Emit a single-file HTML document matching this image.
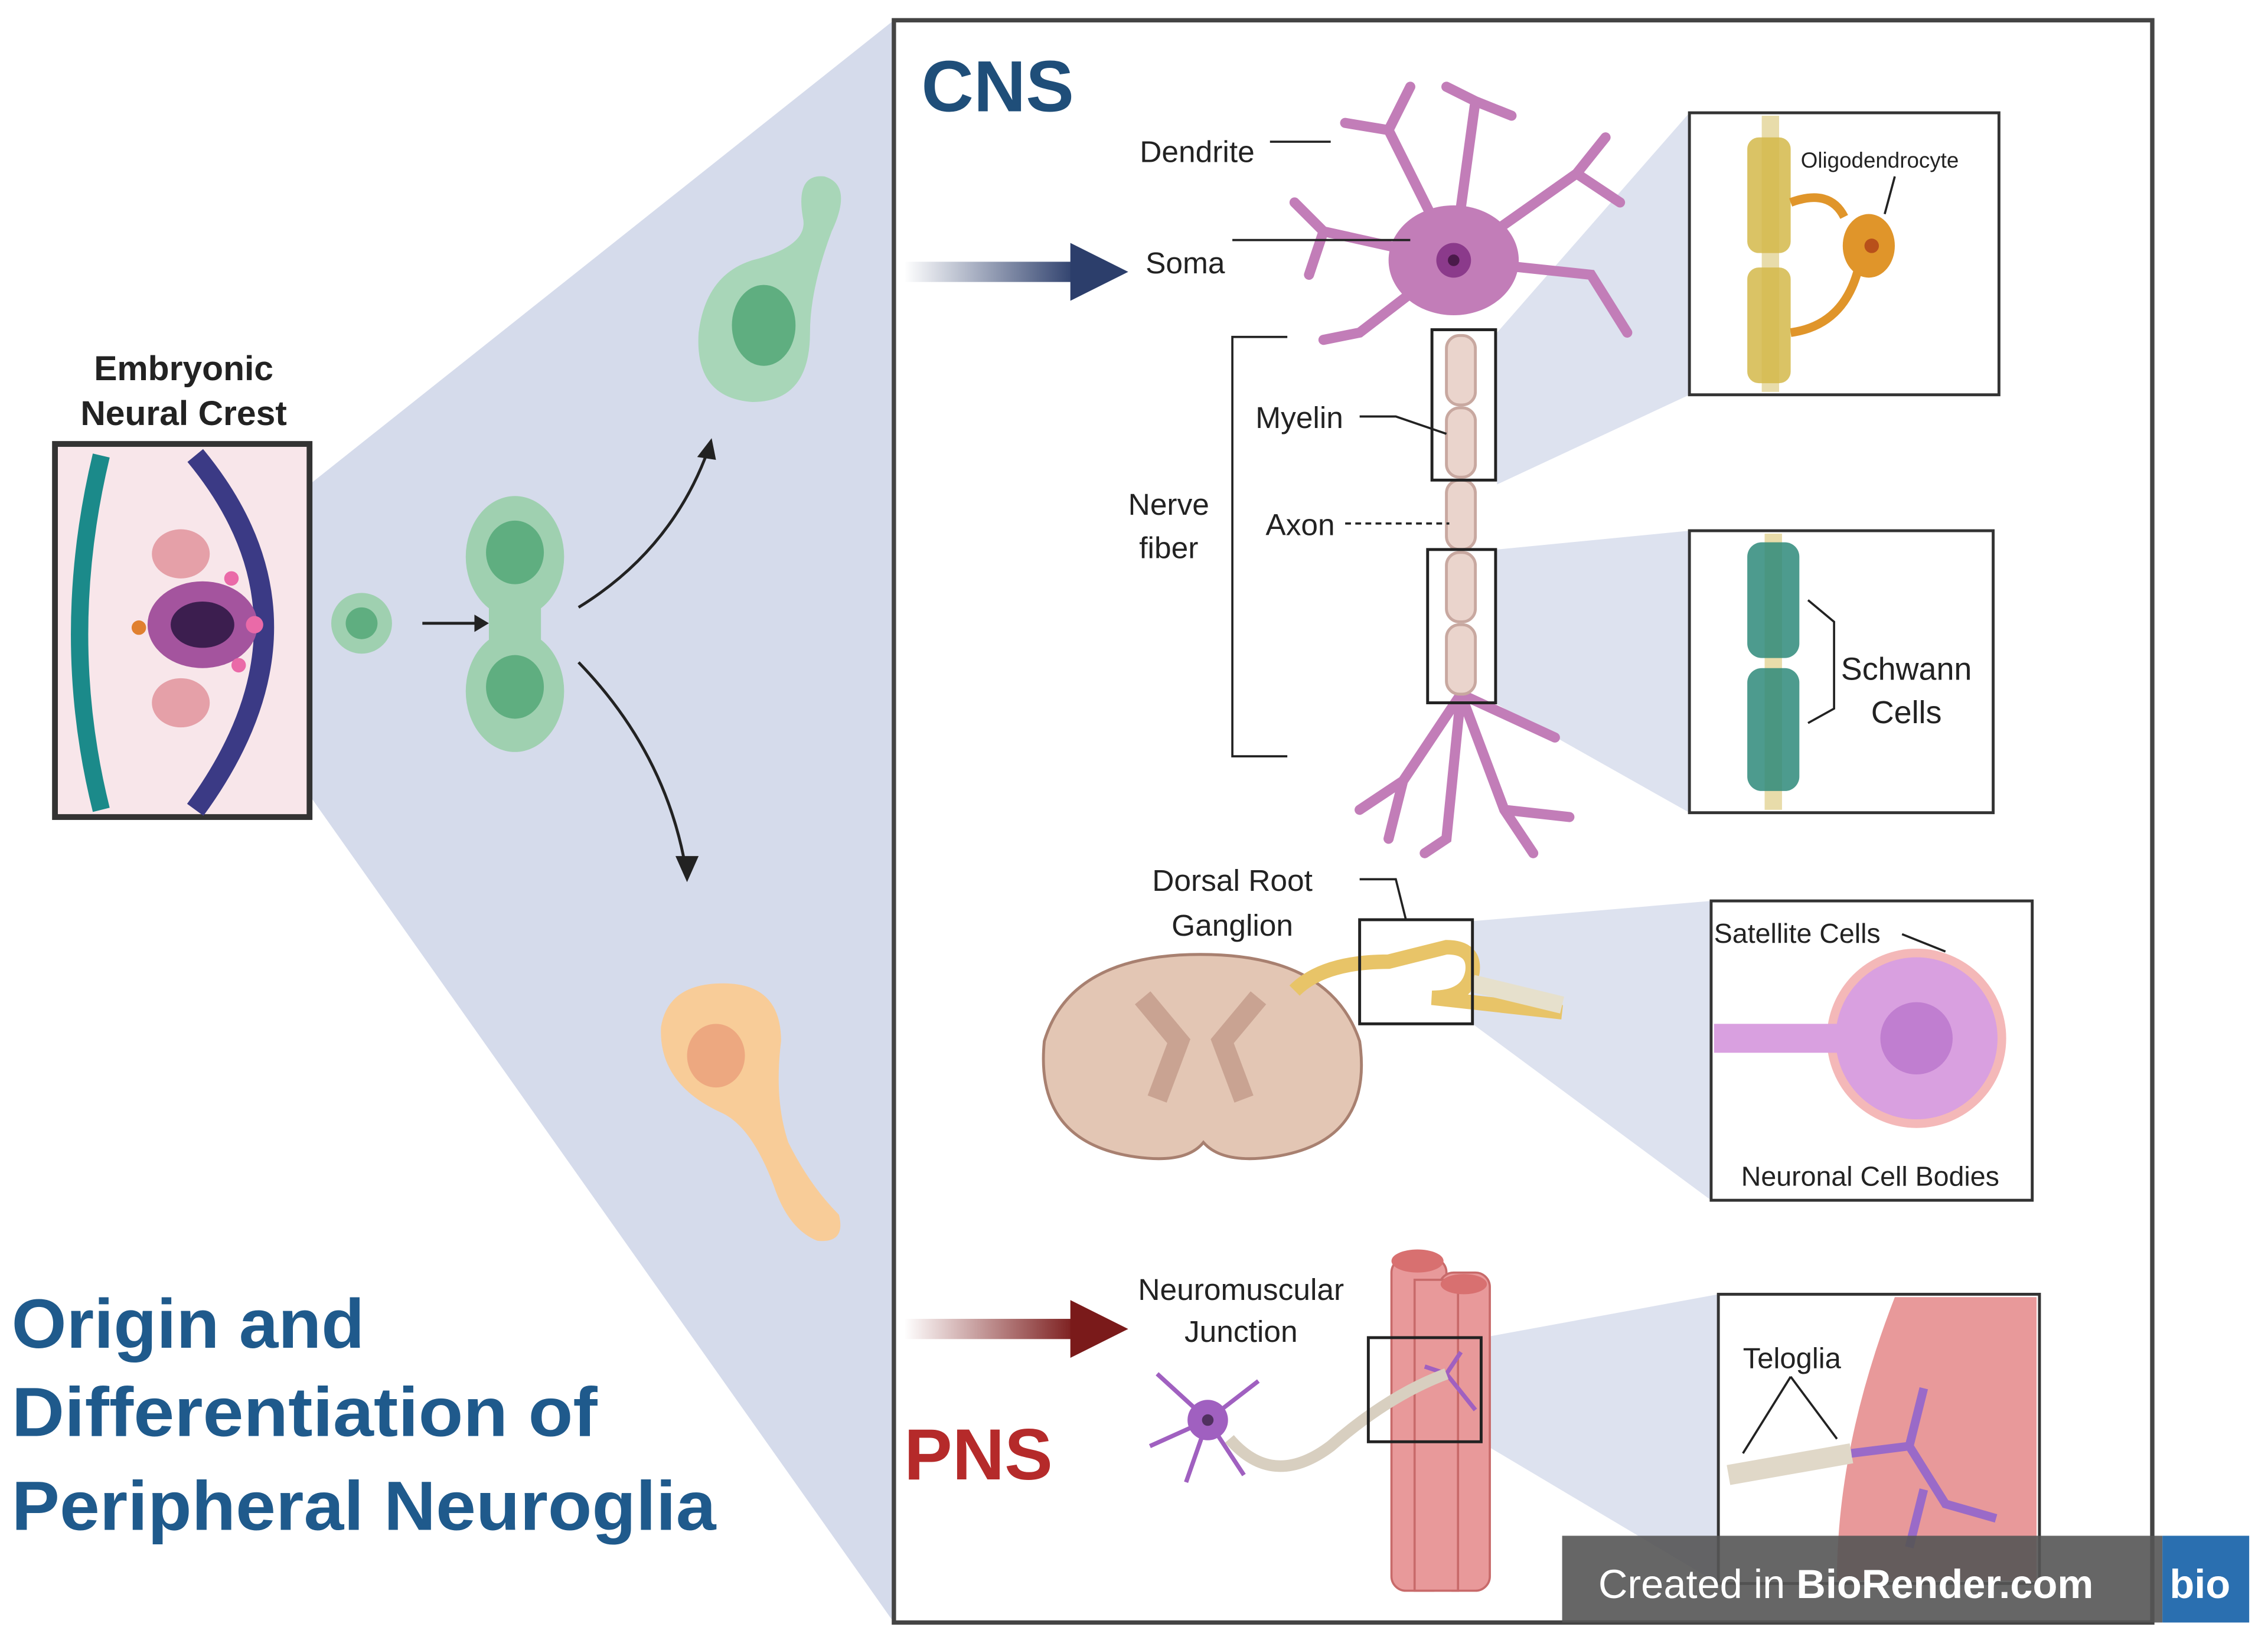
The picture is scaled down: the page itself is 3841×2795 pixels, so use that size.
<!DOCTYPE html>
<html><head><meta charset="utf-8"><style>
html,body{margin:0;padding:0;background:#fff;}
svg{display:block;}
text{font-family:"Liberation Sans",sans-serif;}
</style></head><body>
<svg width="3841" height="2795" viewBox="0 0 1568 1141" xmlns="http://www.w3.org/2000/svg">
<rect width="1568" height="1141" fill="#fff"/>
<polygon points="214,335 618,14 618,1122 214,550" fill="#d5dbeb"/>
<rect x="618" y="14" width="870" height="1108" fill="#fff" stroke="#444" stroke-width="3"/>
<polygon points="1035,230 1168,78 1168,273 1035,335" fill="#dde2ef"/>
<polygon points="1035,380 1168,367 1168,562 1035,487" fill="#dde2ef"/>
<polygon points="1018,637 1183,623 1183,830 1018,708" fill="#dde2ef"/>
<polygon points="1025,925 1188,895 1188,1095 1025,998" fill="#dde2ef"/>
<rect x="38" y="307" width="176" height="258" fill="#f8e6ea" stroke="#333" stroke-width="4"/>
<path d="M70,315 Q40,440 70,560" stroke="#1b8a8a" stroke-width="12" fill="none"/>
<path d="M135,315 Q230,430 135,560" stroke="#3b3a85" stroke-width="14" fill="none"/>
<ellipse cx="140" cy="432" rx="38" ry="30" fill="#a4549e"/>
<ellipse cx="140" cy="432" rx="22" ry="16" fill="#3c1e4f"/>
<ellipse cx="125" cy="383" rx="20" ry="17" fill="#e5a0a8"/>
<ellipse cx="125" cy="486" rx="20" ry="17" fill="#e5a0a8"/>
<circle cx="96" cy="434" r="5" fill="#e08030"/>
<circle cx="176" cy="432" r="6" fill="#ea6aa8"/><circle cx="165" cy="460" r="5" fill="#ea6aa8"/><circle cx="160" cy="400" r="5" fill="#ea6aa8"/>
<text x="127" y="263" font-size="24" font-weight="bold" text-anchor="middle" fill="#222">Embryonic</text>
<text x="127" y="294" font-size="24" font-weight="bold" text-anchor="middle" fill="#222">Neural Crest</text>
<circle cx="250" cy="431" r="21" fill="#9fd0b0"/><circle cx="250" cy="431" r="11" fill="#5fae80"/>
<line x1="292" y1="431" x2="330" y2="431" stroke="#222" stroke-width="2"/><polygon points="338,431 328,425 328,437" fill="#222"/>
<ellipse cx="356" cy="385" rx="34" ry="42" fill="#9fd0b0"/><ellipse cx="356" cy="478" rx="34" ry="42" fill="#9fd0b0"/>
<rect x="338" y="400" width="36" height="62" fill="#9fd0b0"/>
<ellipse cx="356" cy="382" rx="20" ry="22" fill="#5fae80"/><ellipse cx="356" cy="475" rx="20" ry="22" fill="#5fae80"/>
<path d="M400,420 Q465,380 490,310" stroke="#222" stroke-width="2" fill="none"/><polygon points="492,303 482,316 495,318" fill="#222"/>
<path d="M400,458 Q460,520 474,600" stroke="#222" stroke-width="2" fill="none"/><polygon points="475,610 467,592 483,592" fill="#222"/>
<path d="M520,180 Q560,170 555,150 Q550,120 570,122 Q590,128 575,160 Q560,200 560,230 Q560,278 520,278 Q480,275 483,230 Q488,190 520,180Z" fill="#a8d6b8"/>
<ellipse cx="528" cy="225" rx="22" ry="28" fill="#5fae80"/>
<path d="M500,680 Q540,680 540,720 Q535,760 545,790 Q560,820 580,840 Q585,860 565,858 Q545,850 535,820 Q520,780 500,770 Q455,750 457,710 Q462,680 500,680Z" fill="#f8cc98"/>
<ellipse cx="495" cy="730" rx="20" ry="22" fill="#eda880"/>
<g font-size="48" font-weight="bold" fill="#1f5a8c">
<text x="8" y="932" textLength="244" lengthAdjust="spacingAndGlyphs">Origin and</text>
<text x="8" y="993" textLength="405" lengthAdjust="spacingAndGlyphs">Differentiation of</text>
<text x="8" y="1058" textLength="487" lengthAdjust="spacingAndGlyphs">Peripheral Neuroglia</text>
</g>
<text x="637" y="77" font-size="50" font-weight="bold" fill="#1f4e79">CNS</text>
<text x="625" y="1023" font-size="50" font-weight="bold" fill="#b52a2a">PNS</text>
<defs>
<linearGradient id="ga" x1="0" x2="1"><stop offset="0" stop-color="#2c3e6b" stop-opacity="0"/><stop offset="1" stop-color="#2c3e6b"/></linearGradient>
<linearGradient id="gr" x1="0" x2="1"><stop offset="0" stop-color="#7a1a1a" stop-opacity="0"/><stop offset="1" stop-color="#7a1a1a"/></linearGradient>
</defs>
<rect x="625" y="181" width="120" height="14" fill="url(#ga)"/><polygon points="740,168 780,188 740,208" fill="#2c3e6b"/>
<rect x="625" y="912" width="120" height="14" fill="url(#gr)"/><polygon points="740,899 780,919 740,939" fill="#7a1a1a"/>
<g stroke="#c27db8" stroke-width="7" fill="none" stroke-linecap="round">
<path d="M1005,180 L960,90 L930,85 M960,90 L975,60 M1005,180 L1020,70 L1000,60 M1020,70 L1045,80 M1005,180 L1090,120 L1110,95 M1090,120 L1120,140 M1005,180 L1100,190 L1125,230 M1005,180 L915,160 L895,140 M915,160 L905,190 M1005,180 L940,230 L915,235"/>
<path d="M1010,480 L970,540 L940,560 M970,540 L960,580 M1010,480 L1000,580 L985,590 M1010,480 L1040,560 L1060,590 M1040,560 L1085,565 M1010,480 L1075,510"/>
</g>
<ellipse cx="1005" cy="180" rx="45" ry="38" fill="#c27db8"/>
<circle cx="1005" cy="180" r="12" fill="#8b3a8b"/><circle cx="1005" cy="180" r="4" fill="#4a1a4a"/>
<g fill="#ead4cc" stroke="#c8a8a0" stroke-width="2">
<rect x="1000" y="232" width="20" height="48" rx="9"/><rect x="1000" y="282" width="20" height="48" rx="9"/>
<rect x="1000" y="332" width="20" height="48" rx="9"/><rect x="1000" y="382" width="20" height="48" rx="9"/><rect x="1000" y="432" width="20" height="48" rx="9"/>
</g>
<rect x="990" y="228" width="44" height="104" fill="none" stroke="#222" stroke-width="2"/>
<rect x="987" y="380" width="47" height="106" fill="none" stroke="#222" stroke-width="2"/>
<g font-size="21" fill="#222">
<text x="788" y="112">Dendrite</text><text x="792" y="189">Soma</text>
<text x="868" y="296">Myelin</text><text x="875" y="370">Axon</text>
<text x="808" y="356" text-anchor="middle">Nerve</text><text x="808" y="386" text-anchor="middle">fiber</text>
<text x="852" y="616" text-anchor="middle">Dorsal Root</text><text x="852" y="647" text-anchor="middle">Ganglion</text>
<text x="858" y="899" text-anchor="middle">Neuromuscular</text><text x="858" y="928" text-anchor="middle">Junction</text>
</g>
<g stroke="#222" stroke-width="1.5" fill="none">
<path d="M878,98 L920,98"/><path d="M852,166 L975,166"/><path d="M940,288 L965,288 L1000,300"/>
<path d="M930,362 L1002,362" stroke-dasharray="4,3"/>
<path d="M890,233 L852,233 L852,523 L890,523"/>
<path d="M940,608 L965,608 L972,636"/>
</g>
<rect x="1168" y="78" width="214" height="195" fill="#fff" stroke="#333" stroke-width="2"/>
<rect x="1218" y="80" width="12" height="191" fill="#e8dcaa"/>
<rect x="1208" y="95" width="30" height="80" rx="8" fill="#d4b84a" opacity=".85"/>
<rect x="1208" y="185" width="30" height="80" rx="8" fill="#d4b84a" opacity=".85"/>
<path d="M1238,140 Q1265,130 1275,150 M1238,230 Q1275,225 1285,185" stroke="#e0952a" stroke-width="6" fill="none"/>
<ellipse cx="1292" cy="170" rx="18" ry="22" fill="#e0952a"/><circle cx="1294" cy="170" r="5" fill="#b8501a"/>
<text x="1245" y="116" font-size="15" fill="#222">Oligodendrocyte</text>
<path d="M1310,122 L1303,148" stroke="#222" stroke-width="1.5"/>
<rect x="1168" y="367" width="210" height="195" fill="#fff" stroke="#333" stroke-width="2"/>
<rect x="1220" y="369" width="12" height="191" fill="#e8dcaa"/>
<rect x="1208" y="375" width="36" height="80" rx="10" fill="#2e8a7a" opacity=".85"/>
<rect x="1208" y="462" width="36" height="85" rx="10" fill="#2e8a7a" opacity=".85"/>
<text x="1318" y="470" font-size="22" text-anchor="middle" fill="#222">Schwann</text>
<text x="1318" y="500" font-size="22" text-anchor="middle" fill="#222">Cells</text>
<path d="M1250,415 L1268,430 L1268,490 L1250,500" stroke="#222" stroke-width="1.5" fill="none"/>
<path d="M830,660 Q920,660 940,720 Q950,790 880,800 Q845,805 832,790 Q820,805 785,800 Q715,790 722,720 Q740,660 830,660Z" fill="#e3c6b4" stroke="#a88070" stroke-width="2"/>
<path d="M790,690 L815,720 L800,760 M870,690 L845,720 L860,760" stroke="#c9a392" stroke-width="14" fill="none"/>
<path d="M895,685 Q915,665 960,665 L1000,655 Q1020,655 1018,672 Q1015,690 990,690 L1080,700" stroke="#e8c468" stroke-width="10" fill="none"/>
<path d="M1018,680 L1080,695" stroke="#e6e0cc" stroke-width="12"/>
<rect x="940" y="636" width="78" height="72" fill="none" stroke="#222" stroke-width="2"/>
<rect x="1183" y="623" width="222" height="207" fill="#fff" stroke="#333" stroke-width="2"/>
<circle cx="1325" cy="718" r="62" fill="#f4b8b8"/>
<circle cx="1325" cy="718" r="56" fill="#d9a0e0"/>
<rect x="1185" y="708" width="100" height="20" fill="#d9a0e0"/>
<circle cx="1325" cy="718" r="25" fill="#c07ed0"/>
<text x="1185" y="652" font-size="19" fill="#222">Satellite Cells</text>
<text x="1293" y="820" font-size="19" text-anchor="middle" fill="#222">Neuronal Cell Bodies</text>
<path d="M1315,646 L1345,658" stroke="#222" stroke-width="1.5"/>
<g fill="#e8999a" stroke="#c86a6a" stroke-width="1.5">
<rect x="962" y="870" width="38" height="230" rx="10"/><rect x="995" y="880" width="35" height="220" rx="10"/><rect x="978" y="885" width="30" height="215"/>
</g>
<ellipse cx="980" cy="872" rx="18" ry="8" fill="#d87070"/><ellipse cx="1012" cy="888" rx="16" ry="7" fill="#d87070"/>
<g stroke="#a060c0" stroke-width="3" fill="none">
<path d="M835,982 L800,950 M835,982 L870,955 M835,982 L795,1000 M835,982 L860,1020 M835,982 L820,1025"/>
<path d="M1000,950 L1010,935 M1000,950 L1020,975 M1000,950 L985,945"/>
</g>
<circle cx="835" cy="982" r="14" fill="#a060c0"/><circle cx="835" cy="982" r="4" fill="#503060"/>
<path d="M850,995 Q880,1030 920,1000 Q960,965 1000,950" stroke="#d8cfc0" stroke-width="8" fill="none"/>
<rect x="946" y="925" width="78" height="72" fill="none" stroke="#222" stroke-width="2"/>
<rect x="1188" y="895" width="222" height="200" fill="#fff" stroke="#333" stroke-width="2"/>
<path d="M1310,897 L1408,897 L1408,1093 L1270,1093 Q1270,1000 1310,897Z" fill="#e8999a"/>
<path d="M1195,1020 L1280,1005" stroke="#e0d8c8" stroke-width="14"/>
<path d="M1280,1005 L1320,1000 L1330,960 M1320,1000 L1345,1040 L1380,1050 M1330,1030 L1320,1070" stroke="#9a6ac8" stroke-width="6" fill="none"/>
<text x="1205" y="946" font-size="20" fill="#222">Teloglia</text>
<path d="M1238,952 L1205,1005 M1238,952 L1270,995" stroke="#222" stroke-width="1.5"/>
<rect x="1080" y="1062" width="415" height="60" fill="#555" opacity=".9"/>
<rect x="1495" y="1062" width="60" height="60" fill="#2a6fb0"/>
<text x="1105" y="1105" font-size="28" fill="#fff">Created in <tspan font-weight="bold">BioRender.com</tspan></text>
<text x="1500" y="1105" font-size="28" font-weight="bold" fill="#fff">bio</text>
</svg>
</body></html>
